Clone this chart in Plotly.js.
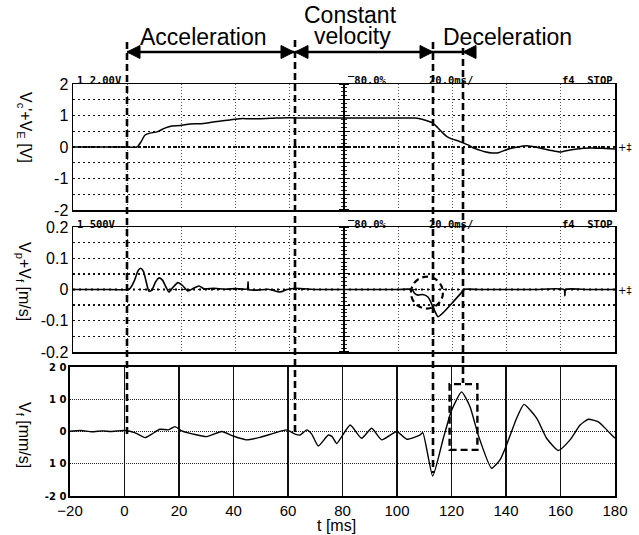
<!DOCTYPE html>
<html><head><meta charset="utf-8">
<script src="https://cdn.plot.ly/plotly-3.0.1.min.js"></script>
<style>html,body{margin:0;padding:0;background:#fff;}#chart{width:639px;height:535px;}</style>
</head><body><div id="chart"></div>
<script>
// ---- data ----
const tTop = [-20,0,3.6,5,6.6,8.4,11,13.9,16.5,19.5,23.2,27,30.6,34,37.9,41.6,45,49,55,60,65,71,80,90,100,106,108,110,112.8,114.5,116.5,118,119.9,122,123.9,126,127.6,130,132,134.6,137,140.1,144,147.5,152.3,156,159.7,163,166,170.8,175,180];
const vTop = [0,0,0,0.15,0.38,0.44,0.48,0.6,0.67,0.68,0.73,0.74,0.78,0.82,0.86,0.9,0.9,0.9,0.92,0.93,0.92,0.92,0.92,0.92,0.92,0.92,0.9,0.85,0.76,0.62,0.44,0.33,0.25,0.2,0.13,0.06,-0.03,-0.1,-0.15,-0.19,-0.18,-0.08,0.0,0.04,-0.03,-0.1,-0.16,-0.1,-0.06,-0.03,-0.04,-0.06];

const tMid = [-20,-10,0,1,2.5,4,5,6,7,8,9,10.5,11.7,13,14.3,15.4,16.8,18.7,20.5,22.4,24.5,26.5,28.5,32,36,40,44.3,44.6,44.9,48,52,56.4,59,62,70,80,90,100,105.1,106,107.3,109,111,112.8,114.7,116.5,119.9,123.5,124,130,140,150,161.2,161.5,161.8,170,180];
const vMid = [0,0,0,0.003,0.025,0.06,0.068,0.058,0.025,-0.005,-0.003,0.025,0.037,0.03,0.008,-0.008,0.006,0.022,0.012,-0.005,0.004,0.011,0.002,0.004,0.001,0.003,0.002,0.025,0.0,-0.002,0.001,-0.008,0,0.004,0,0,0,0,0,-0.012,-0.018,-0.016,-0.024,-0.055,-0.087,-0.075,-0.043,-0.008,0,0,0,0,0,-0.02,0,0,0];

const tBot = [-20,-16,-12,-8,-5,-2,0.2,3.9,7.5,10,13,16.1,18.5,21,25.2,30.2,35.7,39.9,44.8,49.7,54.6,59.5,62.6,64.4,66.9,68.7,71.1,74.8,76.2,77.9,82.8,87,90.7,94.4,99.9,103.6,108.4,109.5,113.1,117,120.1,123.7,126.8,129.8,134.7,137.8,140.2,143.9,146.6,151.3,154.9,159.2,163.5,167.2,170.2,173.9,177,180];
const vBot = [0.1,0.3,-0.1,0.2,0.0,0.2,0.3,-0.4,-1.9,-0.8,0.7,0.5,1.5,0.2,-0.8,-1.6,0,-1.4,-2.6,-1.8,-0.6,0.5,-0.8,-1.1,0.5,-0.8,-4.5,-1.1,-1.6,-3.7,2.0,-2.1,1.0,-2.6,0,-2.4,-1.1,-0.4,-13.8,-2.1,6.7,12.3,7.7,-1.1,-11.4,-8.8,-4.2,4.1,8.4,4.1,-2.1,-5.9,-2.6,2.0,3.8,3.0,0.5,-2.1];

const xTicks = [-20,0,20,40,60,80,100,120,140,160,180];
const topYTicks = [-2,-1,0,1,2];
const topYText = ['-2','-1','0','1','2'];
const midYTicks = [-0.2,-0.1,0,0.1,0.2];
const midYText = ['-0.2','-0.1','0','0.1','0.2'];
const botYTicks = [-20,-10,0,10,20];
const botYText = ['-2 0','1 0','0','1 0','2 0'];

// ---- layout helpers (pixel -> paper) ----
const ML = 70, MR = 24, MT = 84, MB = 39, W = 639, H = 535;
const PW = W - ML - MR, PH = H - MT - MB;
const px = x => (x - ML) / PW;
const py = y => (H - MB - y) / PH;

const FONT = 'Liberation Sans, Arial, Helvetica, sans-serif';

const traces = [
  {x:tTop, y:vTop, xaxis:'x', yaxis:'y', mode:'lines', line:{color:'black', width:1.5, shape:'spline', smoothing:0.6}, hoverinfo:'skip'},
  {x:tMid, y:vMid, xaxis:'x2', yaxis:'y2', mode:'lines', line:{color:'black', width:1.6, shape:'spline', smoothing:0.6}, hoverinfo:'skip'},
  {x:tBot, y:vBot, xaxis:'x3', yaxis:'y3', mode:'lines', line:{color:'black', width:1.4, shape:'spline', smoothing:0.5}, hoverinfo:'skip'},
  // empty traces so the centre scope axes are drawn
  {x:[], y:[], xaxis:'x', yaxis:'y4', mode:'lines', hoverinfo:'skip'},
  {x:[], y:[], xaxis:'x', yaxis:'y5', mode:'lines', hoverinfo:'skip'},
  {x:[], y:[], xaxis:'x2', yaxis:'y6', mode:'lines', hoverinfo:'skip'},
  {x:[], y:[], xaxis:'x2', yaxis:'y7', mode:'lines', hoverinfo:'skip'}
];

const scopeX = (anchor) => ({
  domain:[px(73),1], range:[-20,180], anchor:anchor,
  tickvals:xTicks, showticklabels:false, ticks:'',
  showgrid:true, gridcolor:'#555', griddash:'1px,2px', gridwidth:1,
  showline:true, mirror:true, linecolor:'black', linewidth:1.5, zeroline:false, fixedrange:true
});
const scopeY = (anchor, dom, rng, tv, tt, mdt) => ({
  domain:dom, range:rng, anchor:anchor, tickvals:tv, ticktext:tt, ticks:'',
  tickfont:{family:FONT, size:16, color:'black'},
  showgrid:true, gridcolor:'#111', griddash:'1.5px,3.5px', gridwidth:1.3,
  minor:{dtick:mdt, tick0:0, showgrid:true, gridcolor:'#111', griddash:'1.5px,3.5px', gridwidth:1.3, ticks:''},
  showline:true, mirror:true, linecolor:'black', linewidth:1.5, zeroline:false, fixedrange:true
});
const centerAxis = (overl, rng, dt, mdt, side) => ({
  overlaying:overl, anchor:'free', position:px(343), side:side, range:rng,
  showticklabels:false, showgrid:false, zeroline:false, showline:true, linecolor:'black', linewidth:1.5,
  ticks:'outside', tickmode:'linear', tick0:0, dtick:dt, ticklen:4, tickwidth:1.2, tickcolor:'black',
  minor:{ticks:'outside', dtick:mdt, ticklen:2.5, tickwidth:1, tickcolor:'#222', showgrid:false}, fixedrange:true
});

const dom1 = [py(210), 1], dom2 = [py(352), py(227)], dom3 = [0, py(367)];

const layout = {
  width:W, height:H, margin:{l:ML, r:MR, t:MT, b:MB},
  paper_bgcolor:'white', plot_bgcolor:'white', showlegend:false,
  font:{family:FONT, color:'black'},
  xaxis: scopeX('y'),
  yaxis: scopeY('x', dom1, [-2,2], topYTicks, topYText, 0.5),
  xaxis2: scopeX('y2'),
  yaxis2: scopeY('x2', dom2, [-0.2,0.2], midYTicks, midYText, 0.05),
  xaxis3: {
    domain:[0,1], range:[-20,180], anchor:'y3', tickvals:xTicks, ticks:'',
    tickfont:{family:FONT, size:15, color:'black'},
    showgrid:true, gridcolor:'#111', gridwidth:1.4,
    showline:true, mirror:true, linecolor:'black', linewidth:1.6, zeroline:false, fixedrange:true
  },
  yaxis3: {
    domain:dom3, range:[-20,20], anchor:'x3', tickvals:botYTicks, ticktext:botYText, ticks:'',
    tickfont:{family:'DejaVu Sans, sans-serif', size:10, color:'black', weight:'bold'},
    showgrid:true, gridcolor:'#222', griddash:'1px,1px', gridwidth:1.3,
    showline:true, mirror:true, linecolor:'black', linewidth:1.6, zeroline:false, fixedrange:true
  },
  yaxis4: centerAxis('y', [-2,2], 0.5, 0.125, 'left'),
  yaxis5: centerAxis('y', [-2,2], 0.5, 0.125, 'right'),
  yaxis6: centerAxis('y2', [-0.2,0.2], 0.05, 0.0125, 'left'),
  yaxis7: centerAxis('y2', [-0.2,0.2], 0.05, 0.0125, 'right'),
  shapes: [],
  annotations: []
};

// heavy dotted zero lines in oscilloscope panels
layout.shapes.push({type:'line', xref:'x domain', yref:'y', x0:0, x1:1, y0:0, y1:0, line:{color:'black', width:2, dash:'2px,4px'}, layer:'below'});
layout.shapes.push({type:'line', xref:'x2 domain', yref:'y2', x0:0, x1:1, y0:0, y1:0, line:{color:'black', width:2, dash:'2px,4px'}, layer:'below'});

// dashed phase boundary lines (pixel positions)
const dashed = {color:'black', width:2.6, dash:'7px,4px'};
[[127,42,437],[295,40,435],[433,42,473],[463,48,383]].forEach(([x,y0,y1]) => {
  layout.shapes.push({type:'line', xref:'paper', yref:'paper', x0:px(x), x1:px(x), y0:py(y0), y1:py(y1), line:dashed});
});
// dashed circle (middle) and dashed box (bottom)
layout.shapes.push({type:'circle', xref:'x2', yref:'y2', x0:104.7, x1:116.5, y0:-0.061, y1:0.041, line:{color:'black', width:2.2, dash:'6px,4px'}});
layout.shapes.push({type:'rect', xref:'x3', yref:'y3', x0:119.3, x1:129.5, y0:-5.7, y1:14.7, line:{color:'black', width:2.4, dash:'7px,4px'}});

// arrow shafts and heads (pixel geometry -> paper)
const AY = 52;
const shaft = (a, b) => ({type:'line', xref:'paper', yref:'paper', x0:px(a), x1:px(b), y0:py(AY), y1:py(AY), line:{color:'black', width:2.5}});
const head = (tip, dir) => {
  const b = tip - dir * 13;
  return {type:'path', xref:'paper', yref:'paper', fillcolor:'black', line:{color:'black', width:1},
    path:`M${px(tip)},${py(AY)} L${px(b)},${py(AY - 6.5)} L${px(b)},${py(AY + 6.5)} Z`};
};
layout.shapes.push(shaft(127, 294), head(127, -1), head(294, 1));
layout.shapes.push(shaft(295, 433), head(295, -1), head(433, 1));
layout.shapes.push(shaft(433, 463), head(463, -1));

// phase labels
const big = {family:FONT, size:23, color:'black'};
const lab = (txt, x, y) => ({xref:'paper', yref:'paper', x:px(x), y:py(y), text:txt, showarrow:false, font:big, xanchor:'center', yanchor:'middle'});
layout.annotations.push(lab('Acceleration', 203, 37));
layout.annotations.push(lab('Constant', 350, 15));
layout.annotations.push(lab('velocity', 352, 36));
layout.annotations.push(lab('Deceleration', 507, 37));

// x-axis title
layout.annotations.push({xref:'paper', yref:'paper', x:px(336), y:py(525), text:'t [ms]', showarrow:false,
  font:{family:FONT, size:16, color:'black'}, xanchor:'center', yanchor:'middle'});

// y-axis titles (rotated, reading top to bottom)
const ytitle = (txt, y) => ({xref:'paper', yref:'paper', x:px(24), y:py(y), text:txt, textangle:90, showarrow:false,
  font:{family:FONT, size:16, color:'black'}, xanchor:'center', yanchor:'middle'});
layout.annotations.push(ytitle("V<sub>c</sub>'+V<sub>E</sub> [V]", 127));
layout.annotations.push(ytitle("V<sub>p</sub>+V<sub>f</sub> [m/s]", 281));
layout.annotations.push(ytitle("V<sub>f</sub> [mm/s]", 435));

// oscilloscope header texts
const mono = {family:'DejaVu Sans Mono, monospace', size:10.5, color:'black', weight:'bold'};
const hdr = (txt, x, y, anchor) => ({xref:'paper', yref:'paper', x:px(x), y:py(y), text:txt, showarrow:false, font:mono, xanchor:anchor, yanchor:'middle'});
[[80,'1 2.00V'],[224,'1 500V']].forEach(([y,t]) => {
  layout.annotations.push(hdr(t, 75, y, 'left'));
  layout.annotations.push(hdr('\u203E80.0%', 346, y, 'left'));
  layout.annotations.push(hdr('20.0ms/', 427, y, 'left'));
  layout.annotations.push(hdr('f4  STOP', 615, y, 'right'));
});
[[147],[290]].forEach(([y]) => {
  layout.annotations.push({xref:'paper', yref:'paper', x:px(616), y:py(y), text:'+\u2021', showarrow:false,
    font:{family:'DejaVu Sans, sans-serif', size:10, color:'black'}, xanchor:'left', yanchor:'middle'});
});

Plotly.newPlot('chart', traces, layout, {displayModeBar:false, staticPlot:true});
</script>
</body></html>
